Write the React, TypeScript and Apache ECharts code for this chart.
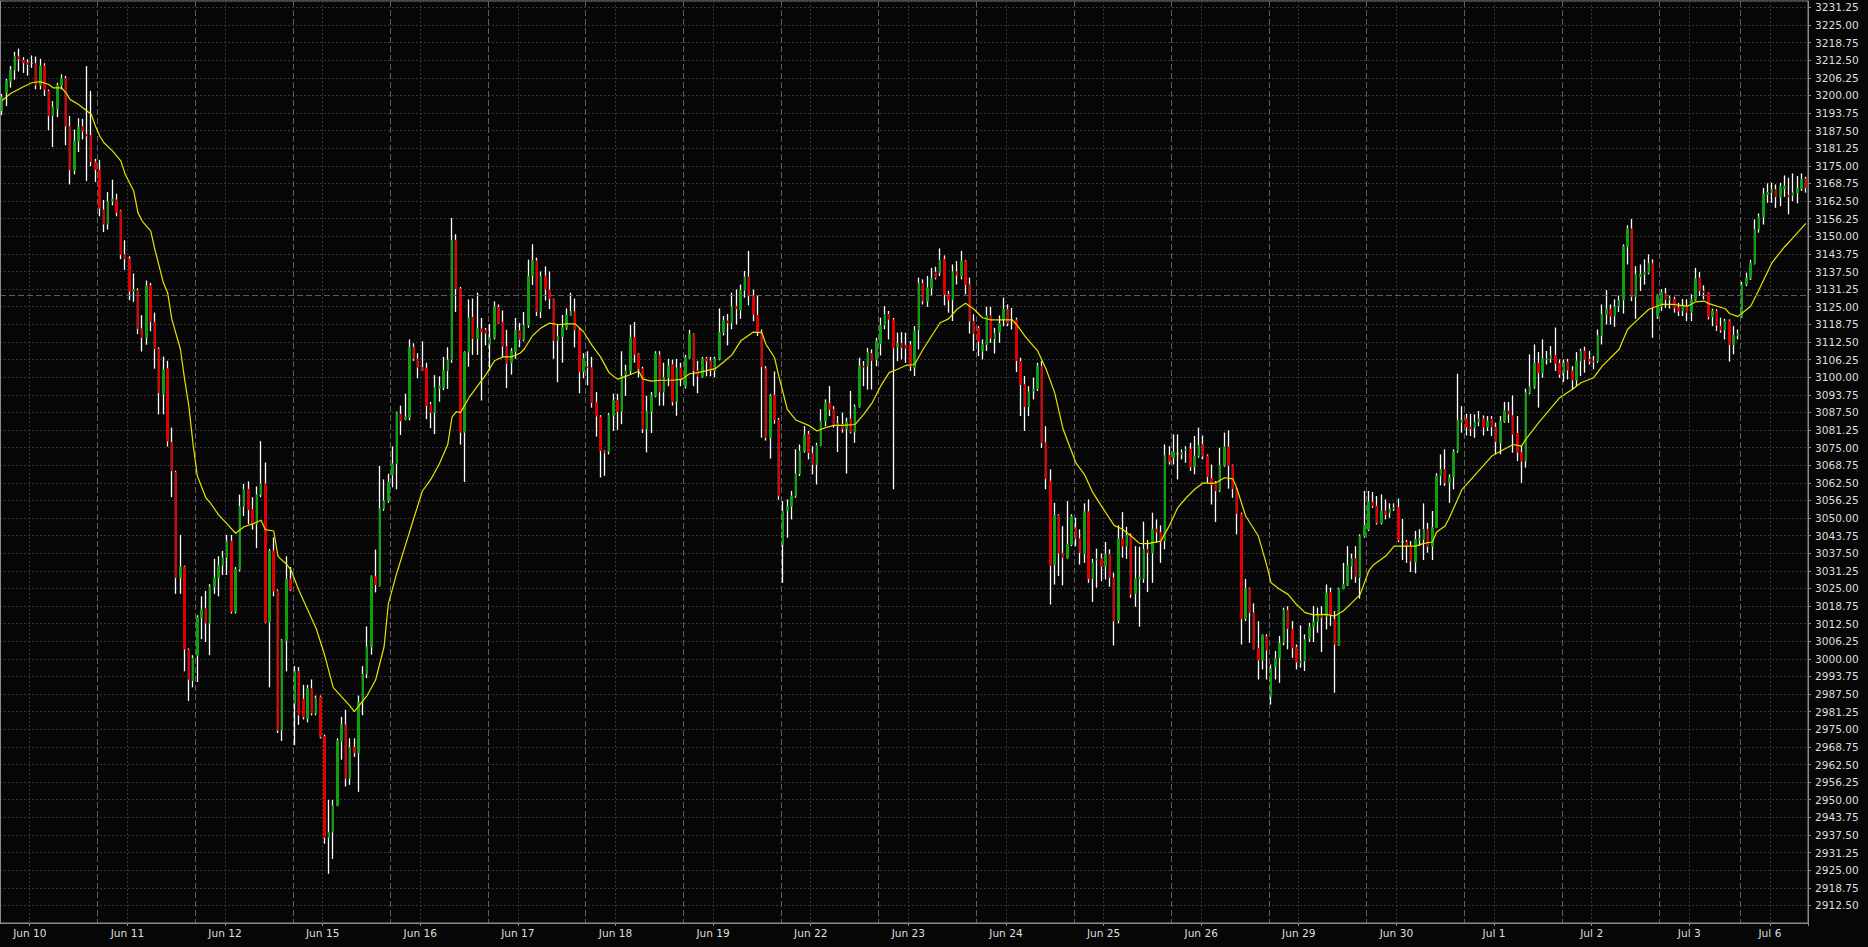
import React, { useEffect, useRef } from "react";
import * as echarts from "echarts";

// [open, high, low, close] per hourly bar, one array per trading session
type Bar = [number, number, number, number];

const dayLabels = [
  "Jun 10", "Jun 11", "Jun 12", "Jun 15", "Jun 16", "Jun 17", "Jun 18", "Jun 19", "Jun 22",
  "Jun 23", "Jun 24", "Jun 25", "Jun 26", "Jun 29", "Jun 30", "Jul 1", "Jul 2", "Jul 3", "Jul 6",
];

const jun10: Bar[] = [
  [3194.5, 3200.5, 3193.0, 3199.5], [3200.9, 3205.9, 3196.2, 3205.1], [3205.1, 3210.4, 3202.8, 3209.0],
  [3209.0, 3215.5, 3205.6, 3213.8], [3213.8, 3216.6, 3208.5, 3212.9], [3212.4, 3213.6, 3208.0, 3211.6],
  [3211.6, 3212.8, 3207.0, 3211.1], [3211.4, 3214.2, 3209.8, 3211.4], [3211.4, 3213.8, 3202.2, 3203.6],
  [3203.6, 3213.0, 3202.1, 3210.4], [3210.4, 3211.4, 3199.8, 3202.1], [3201.5, 3202.1, 3187.7, 3192.7],
  [3192.7, 3198.0, 3181.7, 3195.9], [3195.4, 3204.5, 3192.3, 3203.6], [3203.6, 3207.5, 3202.1, 3206.1],
  [3206.1, 3206.9, 3182.3, 3189.1], [3189.1, 3192.7, 3168.4, 3173.5], [3173.5, 3187.9, 3172.0, 3183.8],
  [3183.8, 3191.9, 3179.9, 3188.8], [3189.1, 3191.7, 3184.4, 3187.3], [3186.2, 3210.4, 3169.6, 3185.6],
  [3185.8, 3201.6, 3174.9, 3176.4], [3176.3, 3177.5, 3169.3, 3173.7],
];
const jun11: Bar[] = [
  [3173.3, 3177.1, 3157.1, 3160.0], [3159.4, 3162.9, 3151.5, 3154.3], [3154.3, 3165.7, 3152.4, 3162.3],
  [3162.5, 3170.1, 3161.0, 3163.2], [3162.9, 3165.1, 3157.1, 3158.5], [3159.0, 3159.4, 3141.9, 3143.5],
  [3143.5, 3148.6, 3138.1, 3141.9], [3141.9, 3142.9, 3127.3, 3130.5], [3130.5, 3136.8, 3126.7, 3131.1],
  [3130.9, 3131.5, 3115.3, 3117.2], [3117.2, 3122.0, 3109.1, 3114.0], [3114.0, 3134.3, 3111.5, 3132.4],
  [3132.4, 3133.4, 3116.3, 3119.7], [3119.5, 3122.9, 3103.0, 3110.0], [3110.0, 3110.6, 3086.8, 3094.4],
  [3094.0, 3107.3, 3086.8, 3102.6], [3103.0, 3105.8, 3075.4, 3077.3], [3076.9, 3082.1, 3057.4, 3066.7],
  [3066.3, 3066.8, 3023.1, 3028.8], [3028.8, 3044.0, 3023.1, 3032.6], [3032.6, 3033.1, 2995.6, 3003.5],
  [3003.2, 3003.7, 2985.1, 2992.7], [2992.3, 3001.3, 2989.9, 3000.3],
];
const jun12: Bar[] = [
  [3001.3, 3015.5, 2991.8, 3014.6], [3014.6, 3022.2, 3007.0, 3017.4], [3018.0, 3024.1, 3006.0, 3012.7],
  [3012.7, 3026.5, 3001.3, 3025.6], [3025.6, 3035.5, 3023.1, 3028.8], [3028.8, 3036.4, 3022.2, 3033.2],
  [3033.2, 3038.3, 3029.8, 3035.9], [3035.9, 3044.0, 3029.8, 3041.8], [3041.8, 3044.0, 3016.1, 3016.9],
  [3016.9, 3032.6, 3016.1, 3031.7], [3031.7, 3058.3, 3031.0, 3054.1], [3054.1, 3062.1, 3050.7, 3060.2],
  [3060.2, 3063.0, 3047.9, 3053.0], [3053.0, 3057.4, 3045.9, 3047.9], [3047.9, 3061.2, 3039.3, 3058.3],
  [3058.3, 3077.3, 3057.4, 3062.1], [3062.1, 3069.7, 3012.7, 3013.1], [3013.1, 3039.0, 2989.9, 3038.3],
  [3038.3, 3043.1, 3022.2, 3024.1], [3024.1, 3024.6, 2973.7, 2974.7], [2974.7, 3007.0, 2970.9, 3006.6],
  [3006.6, 3036.4, 2995.6, 3028.3], [3028.3, 3032.6, 3024.1, 3024.5],
];
const jun15: Bar[] = [
  [2984.2, 2997.5, 2969.4, 2995.6], [2995.6, 2997.1, 2976.6, 2980.0], [2985.7, 2990.8, 2978.5, 2979.4],
  [2978.8, 2990.8, 2977.5, 2989.5], [2989.5, 2992.7, 2980.0, 2980.7], [2980.7, 2987.0, 2980.0, 2986.1],
  [2986.4, 2987.0, 2971.8, 2972.4], [2972.4, 2973.1, 2934.4, 2936.6], [2936.6, 2949.9, 2923.7, 2938.5],
  [2938.5, 2949.9, 2929.0, 2948.0], [2948.0, 2971.8, 2947.7, 2970.9], [2970.9, 2979.4, 2964.2, 2976.6],
  [2976.6, 2981.9, 2954.7, 2957.5], [2957.5, 2971.8, 2955.3, 2968.6], [2968.6, 2971.8, 2965.2, 2966.7],
  [2966.7, 2987.0, 2952.8, 2984.6], [2984.6, 2997.4, 2980.0, 2994.6], [2994.6, 3011.5, 2993.2, 3004.3],
  [3004.3, 3029.6, 3001.5, 3029.1], [3029.1, 3038.8, 3023.6, 3026.4], [3026.0, 3068.5, 3025.7, 3053.3],
  [3053.3, 3063.7, 3052.6, 3056.1], [3056.1, 3065.7, 3055.4, 3062.6],
];
const jun16: Bar[] = [
  [3065.3, 3075.4, 3060.9, 3069.2], [3069.2, 3087.8, 3060.2, 3087.4], [3086.9, 3089.9, 3079.5, 3084.4],
  [3085.1, 3094.1, 3084.7, 3085.8], [3085.8, 3113.4, 3084.7, 3110.6], [3110.6, 3112.0, 3105.8, 3106.5],
  [3106.5, 3108.5, 3099.6, 3103.4], [3103.4, 3112.7, 3102.3, 3102.6], [3103.2, 3105.1, 3085.1, 3089.9],
  [3090.3, 3091.2, 3081.9, 3087.4], [3087.4, 3100.7, 3079.8, 3096.4], [3096.1, 3100.3, 3091.3, 3096.8],
  [3096.4, 3107.2, 3095.4, 3102.3], [3102.3, 3110.6, 3095.8, 3106.1], [3106.1, 3156.5, 3105.1, 3148.6],
  [3148.6, 3150.7, 3123.1, 3131.3], [3131.3, 3132.0, 3076.1, 3080.5], [3080.5, 3109.2, 3062.8, 3108.8],
  [3108.8, 3127.6, 3103.7, 3121.0], [3121.3, 3127.9, 3107.9, 3113.7], [3113.7, 3130.0, 3107.9, 3117.1],
  [3117.1, 3121.0, 3091.7, 3116.1], [3116.8, 3117.5, 3111.3, 3115.5],
];
const jun17: Bar[] = [
  [3111.6, 3118.9, 3102.3, 3114.1], [3114.1, 3126.9, 3113.4, 3125.1], [3124.7, 3125.8, 3118.9, 3119.2],
  [3119.5, 3123.7, 3107.2, 3110.9], [3110.9, 3116.8, 3096.1, 3104.8], [3105.1, 3110.3, 3100.9, 3109.2],
  [3109.2, 3121.0, 3106.5, 3116.6], [3116.6, 3119.2, 3110.6, 3113.4], [3113.4, 3123.1, 3112.7, 3118.5],
  [3118.5, 3141.7, 3117.5, 3135.8], [3136.2, 3147.2, 3132.7, 3141.3], [3141.3, 3142.4, 3121.7, 3123.3],
  [3123.3, 3137.5, 3121.0, 3135.9], [3135.9, 3139.3, 3127.2, 3131.3], [3130.9, 3137.5, 3124.2, 3127.9],
  [3127.6, 3127.9, 3106.5, 3113.0], [3113.0, 3118.9, 3098.2, 3114.5], [3114.5, 3122.1, 3105.1, 3117.5],
  [3117.5, 3124.4, 3116.8, 3121.9], [3121.9, 3130.0, 3121.7, 3123.3], [3123.3, 3127.9, 3110.6, 3116.7],
  [3116.7, 3117.5, 3094.3, 3101.9], [3101.9, 3108.5, 3099.6, 3106.7],
];
const jun18: Bar[] = [
  [3103.7, 3109.2, 3097.1, 3103.4], [3103.4, 3107.2, 3089.2, 3090.9], [3090.9, 3094.7, 3078.9, 3086.2],
  [3085.8, 3086.5, 3064.4, 3074.0], [3073.6, 3074.0, 3065.0, 3073.1], [3073.6, 3087.2, 3072.6, 3086.5],
  [3086.5, 3094.1, 3080.9, 3091.6], [3091.6, 3094.1, 3081.3, 3087.8], [3087.8, 3109.2, 3083.3, 3100.3],
  [3100.9, 3104.4, 3093.4, 3102.3], [3102.3, 3118.6, 3100.9, 3114.1], [3114.1, 3119.6, 3105.1, 3108.1],
  [3108.1, 3108.5, 3099.9, 3103.0], [3103.0, 3103.7, 3080.2, 3081.6], [3081.6, 3093.4, 3073.3, 3087.8],
  [3087.8, 3094.7, 3080.2, 3093.4], [3093.4, 3109.2, 3092.9, 3108.3], [3107.9, 3109.2, 3089.9, 3094.7],
  [3094.7, 3105.1, 3089.9, 3099.9], [3099.9, 3106.5, 3096.8, 3104.0], [3104.4, 3106.2, 3089.9, 3091.3],
  [3091.3, 3106.5, 3086.3, 3103.3], [3103.3, 3105.1, 3096.8, 3099.3],
];
const jun19: Bar[] = [
  [3096.8, 3107.9, 3096.0, 3106.9], [3106.9, 3116.8, 3106.5, 3115.2], [3115.2, 3115.5, 3096.8, 3102.3],
  [3102.3, 3105.8, 3094.3, 3100.3], [3100.3, 3107.2, 3099.8, 3106.5], [3106.5, 3107.2, 3100.3, 3105.8],
  [3105.8, 3107.2, 3100.3, 3102.3], [3102.3, 3107.2, 3099.9, 3106.5], [3106.5, 3124.4, 3106.0, 3115.9],
  [3115.9, 3121.7, 3114.8, 3120.0], [3120.0, 3122.4, 3111.3, 3119.2], [3119.2, 3130.0, 3117.0, 3125.0],
  [3125.0, 3131.1, 3118.7, 3124.3], [3123.8, 3132.9, 3120.7, 3130.8], [3130.8, 3137.7, 3128.2, 3135.6],
  [3135.6, 3144.8, 3125.5, 3129.0], [3128.8, 3131.1, 3119.9, 3122.3], [3121.9, 3129.1, 3114.6, 3116.0],
  [3116.0, 3116.9, 3078.5, 3103.7], [3103.0, 3103.9, 3077.5, 3078.5], [3078.5, 3094.0, 3071.1, 3093.3],
  [3093.6, 3102.0, 3083.5, 3085.0], [3084.8, 3085.5, 3056.5, 3057.8],
];
const jun22: Bar[] = [
  [3040.6, 3056.0, 3027.0, 3052.5], [3052.7, 3056.6, 3043.0, 3054.0], [3054.2, 3059.6, 3049.5, 3057.8],
  [3057.8, 3074.4, 3057.2, 3065.7], [3065.7, 3076.1, 3064.9, 3073.8], [3073.8, 3082.6, 3073.2, 3079.4],
  [3079.7, 3080.9, 3070.8, 3073.2], [3072.9, 3075.5, 3065.5, 3069.0], [3069.0, 3076.7, 3061.9, 3075.8],
  [3075.8, 3088.6, 3075.5, 3084.4], [3084.4, 3092.1, 3082.6, 3090.9], [3090.7, 3096.8, 3086.2, 3088.6],
  [3088.6, 3089.7, 3082.1, 3083.0], [3082.6, 3086.2, 3073.4, 3083.6], [3083.2, 3087.4, 3080.3, 3081.7],
  [3081.7, 3085.6, 3065.8, 3084.1], [3085.2, 3095.1, 3080.0, 3080.5], [3080.5, 3090.3, 3076.7, 3089.5],
  [3089.7, 3106.9, 3089.2, 3103.9], [3103.9, 3105.7, 3096.8, 3103.6], [3103.9, 3110.4, 3095.6, 3108.9],
  [3108.4, 3109.9, 3095.6, 3105.9], [3106.3, 3114.0, 3103.9, 3112.8],
];
const jun23: Bar[] = [
  [3112.0, 3121.1, 3107.7, 3118.4], [3118.4, 3125.2, 3117.0, 3122.3], [3122.3, 3123.5, 3113.4, 3120.5],
  [3120.3, 3121.0, 3060.2, 3110.4], [3110.8, 3115.8, 3105.7, 3112.0], [3112.0, 3116.0, 3106.3, 3110.4],
  [3111.4, 3115.8, 3105.1, 3110.2], [3111.4, 3112.8, 3102.2, 3103.9], [3103.3, 3118.1, 3100.4, 3116.4],
  [3116.7, 3135.3, 3109.9, 3133.3], [3133.3, 3134.7, 3125.8, 3127.0], [3127.0, 3135.9, 3125.0, 3131.7],
  [3131.7, 3138.8, 3128.8, 3134.9], [3137.3, 3139.2, 3134.7, 3135.3], [3137.1, 3145.7, 3135.9, 3141.6],
  [3141.8, 3143.2, 3125.5, 3129.4], [3129.4, 3130.6, 3122.9, 3127.4], [3127.4, 3140.0, 3119.9, 3137.4],
  [3137.4, 3141.2, 3132.9, 3136.2], [3135.9, 3144.8, 3134.7, 3141.2], [3141.2, 3141.6, 3129.4, 3132.9],
  [3132.9, 3135.3, 3115.5, 3119.9], [3119.9, 3122.3, 3109.3, 3115.5],
];
const jun24: Bar[] = [
  [3117.2, 3118.1, 3107.5, 3112.8], [3109.3, 3113.4, 3106.3, 3111.6], [3111.6, 3125.0, 3109.3, 3121.9],
  [3121.9, 3125.0, 3112.2, 3113.8], [3113.6, 3117.5, 3108.4, 3115.5], [3116.0, 3121.9, 3112.2, 3119.0],
  [3120.7, 3128.2, 3118.1, 3124.1], [3124.1, 3125.8, 3118.1, 3119.1], [3120.3, 3124.6, 3116.9, 3120.3],
  [3120.3, 3121.1, 3101.8, 3105.9], [3105.5, 3106.9, 3086.2, 3097.4], [3097.4, 3100.4, 3080.9, 3089.5],
  [3089.5, 3096.8, 3086.2, 3094.8], [3095.1, 3099.8, 3092.1, 3095.7], [3095.9, 3105.1, 3095.1, 3103.9],
  [3103.9, 3105.7, 3074.9, 3076.7], [3076.7, 3082.6, 3060.2, 3063.9], [3063.1, 3067.3, 3019.3, 3033.2],
  [3033.5, 3055.4, 3026.4, 3050.9], [3050.9, 3051.3, 3029.4, 3037.5], [3037.5, 3047.1, 3026.1, 3035.9],
  [3035.9, 3056.0, 3035.6, 3040.6], [3040.6, 3051.3, 3040.0, 3050.5],
];
const jun25: Bar[] = [
  [3046.6, 3050.1, 3040.0, 3042.7], [3042.7, 3046.0, 3033.5, 3037.7], [3037.5, 3055.2, 3034.1, 3052.2],
  [3052.2, 3056.6, 3027.0, 3028.5], [3028.5, 3035.5, 3020.2, 3034.1], [3035.1, 3039.1, 3025.3, 3035.5],
  [3035.5, 3037.4, 3027.6, 3032.9], [3032.9, 3041.5, 3028.2, 3037.1], [3037.1, 3038.9, 3025.6, 3028.8],
  [3028.8, 3030.6, 3004.8, 3013.4], [3013.8, 3047.4, 3012.6, 3042.6], [3042.6, 3052.1, 3035.9, 3040.0],
  [3040.0, 3046.9, 3035.5, 3043.8], [3043.8, 3044.5, 3021.7, 3022.9], [3023.2, 3040.0, 3018.5, 3028.4],
  [3028.4, 3039.8, 3011.4, 3029.0], [3028.4, 3048.7, 3027.0, 3038.9], [3038.9, 3042.2, 3023.7, 3037.7],
  [3037.7, 3051.9, 3027.0, 3046.0], [3046.0, 3049.5, 3041.2, 3045.0], [3045.0, 3047.4, 3034.1, 3041.5],
  [3041.8, 3076.1, 3038.9, 3072.2], [3072.2, 3075.5, 3069.0, 3070.2],
];
const jun26: Bar[] = [
  [3071.4, 3079.7, 3069.0, 3073.4], [3072.8, 3079.7, 3063.7, 3072.8], [3072.6, 3074.4, 3070.8, 3073.2],
  [3074.0, 3075.5, 3069.6, 3074.4], [3074.4, 3076.7, 3066.7, 3068.2], [3068.2, 3079.1, 3065.5, 3072.0],
  [3072.0, 3082.1, 3071.4, 3075.8], [3076.1, 3079.3, 3070.8, 3072.0], [3072.0, 3072.6, 3062.5, 3064.7],
  [3064.0, 3069.0, 3054.8, 3061.9], [3062.5, 3063.1, 3048.6, 3059.6], [3059.6, 3074.9, 3059.2, 3068.7],
  [3068.7, 3080.3, 3068.2, 3075.2], [3075.2, 3081.1, 3060.4, 3068.7], [3068.7, 3069.0, 3057.2, 3060.4],
  [3060.4, 3060.8, 3044.2, 3051.5], [3051.3, 3051.9, 3005.1, 3014.3], [3014.3, 3028.4, 3013.4, 3024.9],
  [3024.9, 3025.3, 3005.7, 3016.4], [3016.4, 3019.7, 3003.4, 3003.6], [3003.6, 3013.4, 2992.7, 2999.6],
  [2999.6, 3008.7, 2996.3, 3008.3], [3007.9, 3008.7, 2992.7, 3003.1],
];
const jun29: Bar[] = [
  [2986.6, 2998.0, 2983.8, 2996.5], [2997.2, 3002.8, 2992.7, 3000.1], [3000.4, 3008.1, 2991.5, 3005.5],
  [3005.7, 3018.2, 3004.8, 3017.3], [3017.3, 3018.7, 3003.4, 3010.7], [3010.5, 3013.4, 3000.4, 3004.0],
  [3004.0, 3005.1, 2996.3, 2998.9], [2998.6, 3011.9, 2996.9, 2999.2], [2999.2, 3008.7, 2995.7, 3006.9],
  [3007.3, 3012.8, 3006.0, 3011.4], [3011.4, 3018.7, 3006.0, 3013.1], [3013.1, 3018.2, 3009.3, 3015.8],
  [3015.8, 3018.7, 3002.4, 3014.6], [3015.2, 3026.4, 3010.5, 3023.3], [3023.5, 3025.3, 3011.7, 3015.8],
  [3014.0, 3017.0, 2988.0, 3005.1], [3004.8, 3025.3, 3004.6, 3024.9], [3024.9, 3034.1, 3024.7, 3026.4],
  [3026.4, 3040.0, 3025.9, 3033.2], [3032.9, 3037.4, 3028.2, 3035.6], [3035.6, 3040.0, 3027.0, 3029.2],
  [3028.8, 3044.2, 3021.4, 3043.6], [3043.6, 3059.6, 3043.0, 3047.4],
];
const jun30: Bar[] = [
  [3046.0, 3059.6, 3045.4, 3055.7], [3055.7, 3059.2, 3053.6, 3054.3], [3054.3, 3057.8, 3047.7, 3048.3],
  [3048.3, 3058.4, 3047.7, 3052.5], [3052.5, 3056.6, 3049.5, 3051.3], [3051.9, 3055.2, 3050.1, 3053.1],
  [3053.1, 3055.2, 3052.5, 3053.7], [3053.7, 3056.9, 3041.5, 3042.2], [3041.5, 3049.7, 3035.1, 3041.5],
  [3041.5, 3042.2, 3034.1, 3040.1], [3040.1, 3041.8, 3030.8, 3034.7], [3034.4, 3045.4, 3030.4, 3042.4],
  [3042.2, 3046.0, 3040.1, 3042.6], [3042.4, 3055.2, 3035.1, 3046.0], [3046.0, 3048.3, 3037.7, 3039.8],
  [3040.0, 3052.5, 3035.1, 3046.6], [3046.6, 3065.9, 3046.4, 3064.9], [3064.9, 3072.6, 3061.6, 3067.3],
  [3067.3, 3074.4, 3061.4, 3062.5], [3062.5, 3065.5, 3055.4, 3064.3], [3064.7, 3074.4, 3060.2, 3073.4],
  [3073.8, 3101.2, 3073.2, 3084.7], [3083.8, 3089.7, 3080.3, 3084.7],
];
const jul1: Bar[] = [
  [3085.2, 3087.0, 3079.3, 3082.3], [3082.3, 3087.0, 3079.1, 3081.7], [3082.0, 3086.8, 3078.5, 3084.1],
  [3084.1, 3088.0, 3082.6, 3085.2], [3085.2, 3086.4, 3079.3, 3082.3], [3082.3, 3086.2, 3080.9, 3084.4],
  [3085.2, 3086.2, 3079.1, 3082.3], [3082.3, 3083.8, 3072.6, 3077.0], [3076.7, 3086.2, 3072.6, 3084.4],
  [3084.4, 3091.2, 3083.8, 3088.0], [3088.0, 3091.2, 3083.8, 3086.8], [3086.4, 3093.5, 3073.2, 3079.7],
  [3080.0, 3086.2, 3070.2, 3073.4], [3073.2, 3075.8, 3062.5, 3070.2], [3070.2, 3095.9, 3067.9, 3094.5],
  [3094.5, 3108.1, 3093.9, 3096.6], [3096.8, 3111.6, 3095.9, 3104.9], [3104.9, 3108.9, 3089.2, 3101.6],
  [3101.6, 3113.4, 3099.8, 3106.5], [3106.3, 3109.3, 3104.5, 3106.5], [3106.5, 3111.0, 3105.1, 3107.7],
  [3107.7, 3117.6, 3102.2, 3104.9], [3104.9, 3106.3, 3099.8, 3101.0],
];
const jul2: Bar[] = [
  [3101.6, 3106.3, 3098.3, 3105.1], [3105.4, 3106.5, 3099.2, 3102.5], [3102.2, 3103.9, 3095.7, 3099.0],
  [3099.0, 3108.9, 3096.8, 3105.7], [3105.7, 3110.1, 3100.4, 3109.3], [3109.3, 3110.8, 3101.6, 3106.3],
  [3106.3, 3109.3, 3104.5, 3105.7], [3105.7, 3107.5, 3102.8, 3105.5], [3105.7, 3116.9, 3105.1, 3114.8],
  [3114.8, 3125.8, 3111.6, 3122.3], [3122.3, 3130.9, 3118.7, 3124.1], [3124.1, 3125.8, 3118.7, 3121.7],
  [3121.7, 3127.6, 3117.9, 3125.0], [3125.2, 3129.0, 3123.1, 3127.2], [3127.4, 3147.1, 3122.6, 3146.3],
  [3146.3, 3153.9, 3140.0, 3152.7], [3152.7, 3156.2, 3127.0, 3128.6], [3128.6, 3139.4, 3120.7, 3136.5],
  [3135.7, 3140.0, 3130.6, 3136.5], [3136.5, 3141.8, 3132.9, 3137.1], [3137.1, 3143.6, 3136.5, 3140.4],
  [3140.4, 3141.8, 3114.0, 3124.6], [3121.7, 3129.4, 3120.7, 3128.8],
];
const jul3: Bar[] = [
  [3125.2, 3131.2, 3123.5, 3130.0], [3129.7, 3131.7, 3124.6, 3127.4], [3127.4, 3128.8, 3124.3, 3127.8],
  [3127.6, 3128.5, 3122.9, 3124.6], [3124.6, 3126.4, 3121.7, 3123.5], [3123.5, 3127.8, 3121.7, 3125.2],
  [3125.2, 3127.6, 3119.9, 3122.9], [3123.1, 3129.4, 3119.9, 3127.4], [3127.4, 3138.8, 3127.0, 3134.9],
  [3135.3, 3137.3, 3128.8, 3130.6], [3130.6, 3132.6, 3127.6, 3130.0], [3130.0, 3130.2, 3120.5, 3121.5],
  [3121.5, 3124.3, 3118.1, 3123.5], [3123.5, 3124.1, 3116.4, 3118.4], [3118.1, 3121.1, 3115.8, 3116.7],
  [3116.7, 3120.7, 3113.4, 3119.9], [3119.9, 3120.5, 3105.5, 3111.6], [3111.6, 3118.1, 3108.1, 3114.8],
  [3114.8, 3116.9, 3113.4, 3115.5],
];
const jul6: Bar[] = [
  [3121.5, 3133.8, 3121.1, 3132.9], [3132.9, 3137.1, 3132.3, 3135.1], [3135.1, 3141.6, 3134.5, 3140.4],
  [3140.4, 3156.0, 3140.0, 3152.5], [3152.5, 3158.1, 3151.3, 3156.9], [3156.9, 3167.2, 3154.2, 3164.9],
  [3164.9, 3168.8, 3161.9, 3165.5], [3165.5, 3169.0, 3161.9, 3166.6], [3166.6, 3168.4, 3160.1, 3164.0],
  [3164.0, 3169.0, 3160.7, 3167.6], [3166.9, 3171.6, 3164.0, 3167.8], [3164.5, 3170.8, 3157.8, 3164.0],
  [3164.5, 3172.3, 3162.5, 3165.5], [3165.5, 3171.4, 3161.7, 3166.9], [3166.9, 3172.3, 3166.1, 3170.2],
  [3170.4, 3171.1, 3165.5, 3167.2],
];

const sessions: Bar[][] = [
  jun10, jun11, jun12, jun15, jun16, jun17, jun18, jun19, jun22, jun23,
  jun24, jun25, jun26, jun29, jun30, jul1, jul2, jul3, jul6,
];

// moving average: [bar index, value]
const movingAverage: [number, number][] = [
  [0, 3198.2], [2, 3200.7], [5, 3203.1], [7, 3204.5], [9, 3204.9], [11, 3203.9], [12, 3202.7], [14, 3202.7],
  [15, 3201.0], [16, 3198.6], [18, 3196.8], [20, 3194.5], [21, 3193.3], [22, 3189.1], [23, 3185.6], [24, 3183.2],
  [26, 3180.3], [28, 3176.7], [29, 3172.0], [31, 3166.1], [32, 3158.4], [33, 3155.4], [35, 3151.9], [36, 3145.3],
  [38, 3133.5], [39, 3130.0], [40, 3120.5], [42, 3110.0], [43, 3099.2], [44, 3089.7], [45, 3076.0], [46, 3064.9],
  [48, 3057.2], [49, 3055.5], [51, 3051.1], [53, 3047.9], [55, 3044.6], [57, 3046.9], [59, 3047.9], [61, 3049.2],
  [62, 3045.9], [64, 3045.4], [65, 3036.4], [67, 3033.6], [68, 3031.7], [70, 3024.1], [72, 3017.4], [74, 3010.8],
  [76, 3001.3], [78, 2989.9], [80, 2986.5], [82, 2983.2], [83, 2981.3], [84, 2983.2], [86, 2987.0], [88, 2992.5],
  [90, 3004.3], [91, 3019.5], [93, 3030.5], [95, 3040.2], [97, 3049.9], [99, 3059.5], [101, 3063.7], [103, 3069.2],
  [105, 3076.1], [106, 3085.8], [107, 3087.8], [108, 3087.4], [110, 3092.7], [112, 3096.8], [114, 3100.9],
  [116, 3105.8], [118, 3107.2], [120, 3107.2], [122, 3108.5], [123, 3109.9], [125, 3114.8], [127, 3117.5],
  [129, 3119.2], [131, 3118.6], [133, 3118.9], [135, 3118.9], [137, 3116.1], [139, 3111.3], [141, 3107.2],
  [143, 3101.6], [145, 3099.3], [147, 3100.3], [150, 3102.1], [151, 3099.3], [153, 3098.6], [155, 3098.9],
  [158, 3098.9], [160, 3099.2], [162, 3101.2], [164, 3101.6], [166, 3102.3], [168, 3103.0], [170, 3105.4],
  [172, 3108.0], [174, 3112.8], [177, 3116.0], [179, 3115.8], [180, 3111.6], [182, 3106.9], [183, 3100.4],
  [184, 3094.5], [185, 3088.6], [187, 3084.8], [190, 3082.9], [192, 3080.9], [194, 3082.1], [196, 3082.9],
  [198, 3082.9], [201, 3083.2], [203, 3086.8], [205, 3090.9], [207, 3096.8], [209, 3101.6], [211, 3102.8],
  [213, 3104.2], [215, 3104.5], [217, 3109.9], [219, 3114.6], [221, 3119.3], [223, 3120.7], [225, 3124.1],
  [227, 3126.2], [229, 3124.1], [231, 3121.1], [233, 3120.3], [235, 3120.3], [238, 3120.3], [239, 3118.7],
  [241, 3114.6], [243, 3111.0], [244, 3109.3], [246, 3102.8], [248, 3094.5], [250, 3081.5], [253, 3069.6],
  [255, 3065.5], [257, 3059.0], [259, 3054.3], [262, 3047.4], [264, 3046.0], [266, 3043.6], [268, 3041.0],
  [270, 3040.9], [273, 3041.8], [275, 3047.2], [277, 3053.7], [279, 3057.2], [281, 3060.2], [283, 3062.5],
  [285, 3062.3], [286, 3062.5], [288, 3064.3], [290, 3063.9], [291, 3060.2], [293, 3050.7], [296, 3043.6],
  [298, 3033.0], [299, 3027.0], [301, 3024.7], [303, 3022.9], [305, 3019.3], [307, 3016.4], [309, 3015.6],
  [312, 3015.8], [314, 3015.2], [316, 3017.0], [318, 3019.9], [320, 3022.9], [322, 3031.2], [323, 3033.2],
  [326, 3036.5], [328, 3040.0], [330, 3040.0], [332, 3040.0], [333, 3040.0], [335, 3041.0], [337, 3041.5],
  [338, 3045.0], [340, 3047.2], [341, 3050.1], [344, 3060.2], [351, 3072.0], [356, 3076.1], [358, 3075.5],
  [359, 3077.9], [362, 3083.8], [367, 3092.7], [370, 3095.7], [372, 3098.0], [375, 3099.8], [377, 3103.9],
  [381, 3109.9], [383, 3117.0], [385, 3119.9], [388, 3124.1], [391, 3125.8], [394, 3125.8], [397, 3125.2],
  [399, 3126.7], [401, 3127.0], [402, 3126.2], [406, 3124.3], [407, 3122.6], [409, 3121.5], [412, 3125.2],
  [414, 3131.2], [417, 3140.6], [420, 3146.3], [422, 3149.5], [425, 3154.6],
];

const priceMin = 2906.25;
const priceMax = 3233.52;
const priceStep = 6.25;
const bidLevel = 3129.0;
const labelOffsetInDay = 7;

const BG = "#060606";
const UP = "#0ea00e";
const DOWN = "#e00000";
const MA = "#e4e400";
const AXIS = "#8c8c8c";
const TEXT = "#dedede";
const FONT = "DejaVu Sans";

export default function App() {
  const ref = useRef<HTMLDivElement>(null);

  useEffect(() => {
    if (!ref.current) return;
    const chart = echarts.init(ref.current, undefined, { renderer: "svg" });

    const categories: string[] = [];
    const wickData: number[][] = [];
    const bodyData: number[][] = [];
    const sepSet = new Set<number>();
    const labelSet = new Set<number>();
    sessions.forEach((day, d) => {
      const start = categories.length;
      if (start > 0) sepSet.add(start);
      labelSet.add(start + labelOffsetInDay);
      day.forEach((b, k) => {
        const [o, h, l, c] = b;
        categories.push(dayLabels[d] + "|" + k);
        wickData.push([o, c, l, h]);
        bodyData.push([o, c, Math.min(o, c), Math.max(o, c)]);
      });
    });

    const labelFont = { color: TEXT, fontFamily: FONT, fontSize: 10.6 };

    chart.setOption({
      animation: false,
      backgroundColor: BG,
      textStyle: { fontFamily: FONT },
      grid: {
        left: -2.5, right: 60, top: 1, bottom: 24,
        show: true, borderColor: AXIS, borderWidth: 1, backgroundColor: "transparent",
      },
      graphic: [
        {
          type: "line",
          shape: { x1: 0.5, y1: 1, x2: 0.5, y2: 923 },
          style: { stroke: AXIS, lineWidth: 1 },
          silent: true,
          z: 10,
        },
      ],
      xAxis: [
        {
          type: "category",
          data: categories,
          boundaryGap: true,
          axisLine: { show: true, lineStyle: { color: AXIS, width: 1 } },
          axisTick: {
            show: true, length: 3, interval: (i: number) => labelSet.has(i),
            lineStyle: { color: AXIS },
          },
          axisLabel: {
            ...labelFont,
            margin: 4,
            padding: [0, 4, 0, 0],
            interval: (i: number) => labelSet.has(i),
            formatter: (v: string) => v.split("|")[0],
          },
          splitLine: {
            show: true, interval: (i: number) => sepSet.has(i),
            lineStyle: { color: "#5e5e5e", type: [6, 3], width: 1 },
          },
        },
        {
          type: "category",
          data: categories,
          boundaryGap: true,
          position: "bottom",
          axisLine: { show: false },
          axisTick: { show: false },
          axisLabel: { show: false },
          splitLine: {
            show: true, interval: (i: number) => labelSet.has(i),
            lineStyle: { color: "#363636", type: [2, 2], width: 1 },
          },
        },
      ],
      yAxis: {
        type: "value",
        position: "right",
        min: priceMin,
        max: priceMax,
        interval: priceStep,
        axisLine: { show: true, lineStyle: { color: AXIS } },
        axisTick: { show: true, length: 3, lineStyle: { color: AXIS } },
        axisLabel: {
          ...labelFont,
          margin: 7,
          showMinLabel: false,
          showMaxLabel: false,
          formatter: (v: number) => v.toFixed(2),
        },
        splitLine: { show: true, lineStyle: { color: "#363636", type: [2, 2], width: 1 } },
      },
      series: [
        {
          name: "wicks",
          type: "candlestick",
          data: wickData,
          barWidth: 1,
          silent: true,
          z: 2,
          itemStyle: {
            color: "#ffffff", color0: "#ffffff", borderColor: "#ffffff", borderColor0: "#ffffff",
            borderColorDoji: "#ffffff", borderWidth: 1.3,
          },
          markLine: {
            silent: true,
            symbol: ["none", "none"],
            label: { show: false },
            lineStyle: { color: "#5e5e5e", type: [6, 3], width: 1 },
            data: [{ yAxis: bidLevel }],
          },
        },
        {
          name: "bodies",
          type: "candlestick",
          data: bodyData,
          barWidth: 2,
          silent: true,
          z: 3,
          itemStyle: {
            color: UP, color0: DOWN, borderColor: UP, borderColor0: DOWN,
            borderColorDoji: MA, borderWidth: 1,
          },
        },
        {
          name: "MA",
          type: "line",
          data: movingAverage,
          symbol: "none",
          showSymbol: false,
          silent: true,
          z: 4,
          lineStyle: { color: MA, width: 1.2 },
        },
      ],
    });

    return () => chart.dispose();
  }, []);

  return (
    <div
      ref={ref}
      style={{ position: "fixed", left: 0, top: 0, width: 1868, height: 947, background: BG }}
    />
  );
}
